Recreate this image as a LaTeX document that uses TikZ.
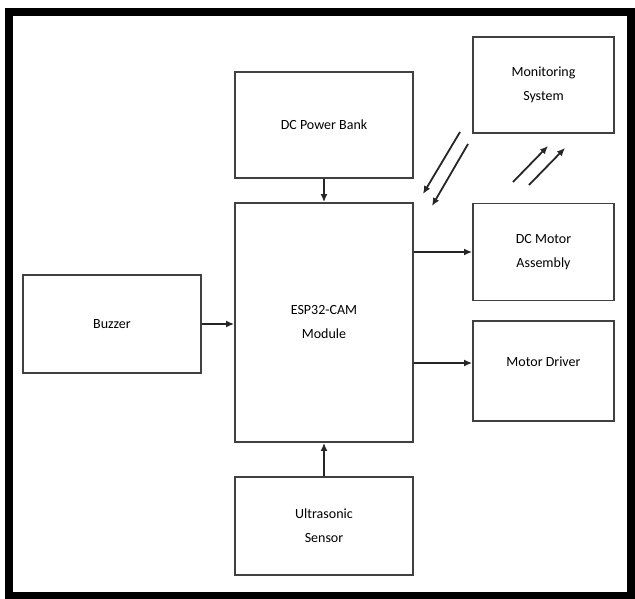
\documentclass[tikz,border=0pt]{standalone}
\usepackage{fontspec}
\setmainfont{Carlito}
\usepackage{tikz}
\usetikzlibrary{arrows.meta}

\begin{document}
\begin{tikzpicture}[x=1pt, y=-1pt, every node/.style={font=\fontsize{14}{24}\selectfont, text=black, align=center}, >={Latex[length=8pt,width=7pt]},
	blk/.style={draw=black!75, line width=1.8pt, inner sep=0pt},
	link/.style={->, draw=black!85, line width=1.8pt}]
	\useasboundingbox (0,0) rectangle (635,599);
	\draw[line width=8pt] (9,12) rectangle (631,596);
	\node[blk, minimum width=178pt, minimum height=106pt] (power) at (324,125) {DC Power Bank};
	\node[blk, minimum width=178pt, minimum height=239pt] (esp) at (324,322.5) {ESP32-CAM\\Module};
	\node[blk, minimum width=178pt, minimum height=98pt] (buzzer) at (112,324) {Buzzer};
	\node[blk, minimum width=178pt, minimum height=98pt] (ultra) at (324,526) {Ultrasonic\\Sensor};
	\node[blk, minimum width=141pt, minimum height=96pt] (monitor) at (543.5,85) {Monitoring\\System};
	\node[blk, minimum width=141pt, minimum height=97pt] (motor) at (543.5,252) {DC Motor\\Assembly};
	\node[blk, minimum width=141pt, minimum height=100pt, text height=10pt, text depth=19pt] (driver) at (543.5,371) {Motor Driver};
	\coordinate (drvin) at ([yshift=8pt]driver.west);
	\draw[link] (power) -- (esp);
	\draw[link] (ultra) -- (esp);
	\draw[link] (buzzer.east) -- (buzzer.east -| esp.west);
	\draw[link] (esp.east |- motor.west) -- (motor.west);
	\draw[link] (esp.east |- drvin) -- (drvin);
	% wireless link to the monitoring side
	\coordinate (d1) at (460,132);
	\coordinate (e1) at (423,194);
	\coordinate (d2) at (468,144);
	\coordinate (e2) at (432,206);
	\coordinate (u1) at (513,182);
	\coordinate (v1) at (548,146);
	\coordinate (u2) at (529,185);
	\coordinate (v2) at (565,148);
	\foreach \a/\b in {d1/e1, d2/e2, u1/v1, u2/v2} {\draw[link] (\a) -- (\b);}
\end{tikzpicture}
\end{document}
